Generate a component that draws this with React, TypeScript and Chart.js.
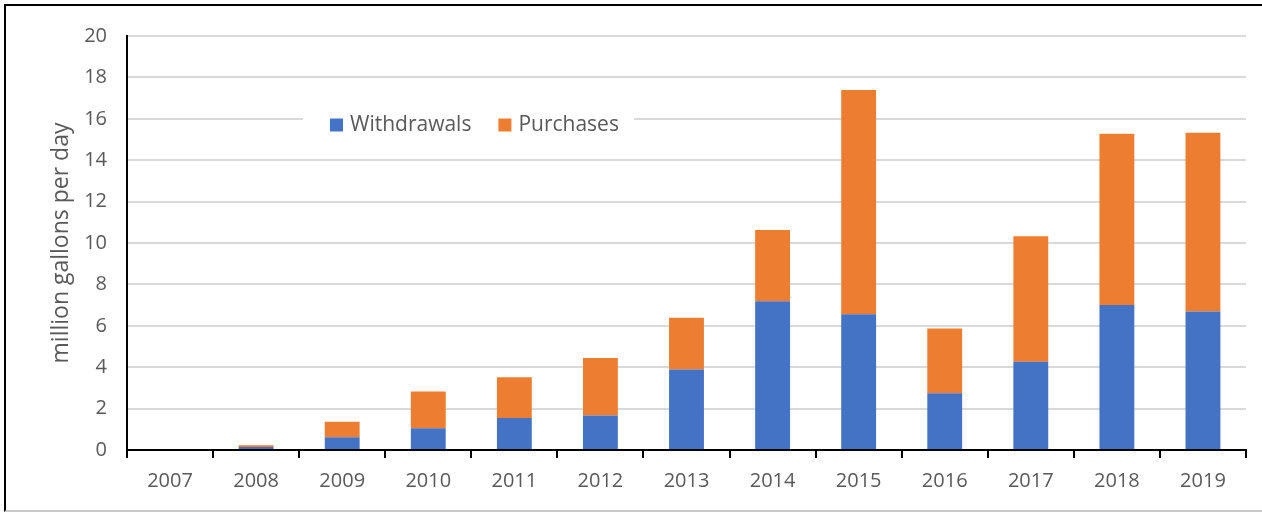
import React, { useEffect, useRef } from "react";
import { Chart, registerables } from "chart.js";

Chart.register(...registerables);

const years = ["2007", "2008", "2009", "2010", "2011", "2012", "2013", "2014", "2015", "2016", "2017", "2018", "2019"];
const withdrawals = [0, 0.15, 0.61, 1.05, 1.54, 1.67, 3.89, 7.19, 6.56, 2.74, 4.26, 7.0, 6.69];
const purchases = [0, 0.08, 0.76, 1.78, 1.98, 2.78, 2.5, 3.44, 10.83, 3.13, 6.07, 8.28, 8.64];
const yTicks = [0, 2, 4, 6, 8, 10, 12, 14, 16, 18, 20];

const FONT = "'Open Sans', Lato, sans-serif";
const TEXT = "#595959";

const legendPlugin = {
  id: "boxLegend",
  afterDraw(chart: any) {
    const { ctx, chartArea } = chart;
    const boxL = chartArea.left + 176;
    const boxR = chartArea.left + 507;
    const cy = chartArea.top + 89;
    ctx.save();
    ctx.fillStyle = "#ffffff";
    ctx.fillRect(boxL, cy - 17, boxR - boxL, 34);
    ctx.font = `21px ${FONT}`;
    ctx.textBaseline = "middle";
    ctx.textAlign = "left";
    let x = boxL + 27;
    chart.data.datasets.forEach((ds: any) => {
      ctx.fillStyle = ds.backgroundColor;
      ctx.fillRect(x, cy - 6.5, 13, 13);
      ctx.fillStyle = TEXT;
      ctx.fillText(ds.label, x + 20, cy);
      x += 20 + ctx.measureText(ds.label).width + 27;
    });
    ctx.restore();
  },
};

export default function App() {
  const ref = useRef<HTMLCanvasElement>(null);
  useEffect(() => {
    const chart = new Chart(ref.current!, {
      type: "bar",
      data: {
        labels: years,
        datasets: [
          { label: "Withdrawals", data: withdrawals, backgroundColor: "#4472C4", borderWidth: 0 },
          { label: "Purchases", data: purchases, backgroundColor: "#ED7D31", borderWidth: 0 },
        ],
      },
      plugins: [legendPlugin],
      options: {
        responsive: false,
        animation: false,
        layout: { padding: { left: 0, top: 36, right: 16, bottom: 0 } },
        plugins: { legend: { display: false }, tooltip: { enabled: false } },
        datasets: { bar: { categoryPercentage: 1, barPercentage: 0.405 } },
        scales: {
          x: {
            stacked: true,
            grid: { display: true, drawOnChartArea: false, drawTicks: true, tickLength: 8, color: "#000000", lineWidth: 2, offset: true },
            border: { display: true, color: "#000000", width: 2 },
            ticks: { color: TEXT, font: { family: FONT, size: 20 }, padding: 11, maxRotation: 0 },
            afterFit(scale: any) { scale.height = 63; },
          },
          y: {
            stacked: true,
            min: 0,
            max: 20,
            afterBuildTicks(scale: any) { scale.ticks = yTicks.map((v) => ({ value: v })); },
            grid: { color: "#d9d9d9", lineWidth: 2, drawTicks: false },
            border: { display: true, color: "#000000", width: 2 },
            ticks: { color: TEXT, font: { family: FONT, size: 20 }, padding: 20 },
            title: { display: true, text: "million gallons per day", color: TEXT, font: { family: FONT, size: 23 }, padding: { top: 48, bottom: 0 } },
            afterFit(scale: any) { scale.width = 127; },
          },
        },
      },
    });
    return () => chart.destroy();
  }, []);

  return (
    <div style={{ position: "fixed", left: 0, top: 0, width: 1262, height: 513, background: "#ffffff", overflow: "hidden" }}>
      <div style={{ position: "absolute", left: 4, top: 4, width: 1290, height: 504, borderTop: "2px solid #000", borderLeft: "2px solid #000", borderBottom: "2px solid #c8c8c8" }} />
      <canvas ref={ref} width={1262} height={513} style={{ position: "absolute", left: 0, top: 0, width: 1262, height: 513 }} />
    </div>
  );
}
